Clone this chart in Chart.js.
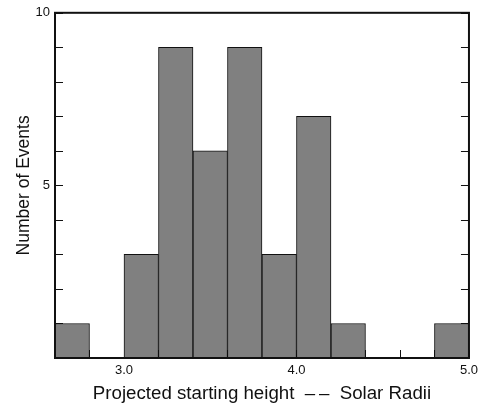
<!DOCTYPE html>
<html>
<head>
<meta charset="utf-8">
<script src="https://cdn.jsdelivr.net/npm/chart.js@4/dist/chart.umd.min.js"></script>
<style>
  html, body { margin: 0; padding: 0; background: #fff; }
  #wrap { width: 483px; height: 405px; position: relative; }
</style>
</head>
<body>
<div id="wrap"><canvas id="c"></canvas></div>
<script>
// Histogram bins (lower edges, width 0.2 solar radii) and counts
const binStarts = [2.6, 2.8, 3.0, 3.2, 3.4, 3.6, 3.8, 4.0, 4.2, 4.4, 4.6, 4.8];
const binWidth = 0.2;
const counts    = [1,   0,   3,   9,   6,   9,   3,   7,   1,   0,   0,   1];
const xLabelValues = [3.0, 4.0, 5.0];
const yLabelValues = [5, 10];
const xTitle = "Projected starting height  \u2013\u2009\u2013  Solar Radii";
const yTitle = "Number of Events";

const data = binStarts.map((s, i) => ({ x: s + binWidth / 2, y: counts[i] }));

const FONT = "'Liberation Sans', Arial, Helvetica, sans-serif";
const INK = '#111';

const framePlugin = {
  id: 'framePlugin',
  beforeDatasetsDraw(chart) {
    const { ctx, chartArea: a, scales: { x, y } } = chart;
    const L = 8;
    ctx.save();
    ctx.strokeStyle = INK;
    ctx.lineWidth = 1;
    ctx.beginPath();
    y.ticks.forEach(t => {
      const py = Math.round(y.getPixelForValue(t.value)) + 0.5;
      ctx.moveTo(a.left, py); ctx.lineTo(a.left + L, py);
      ctx.moveTo(a.right, py); ctx.lineTo(a.right - L, py);
    });
    x.ticks.forEach(t => {
      const px = Math.round(x.getPixelForValue(t.value)) + 0.5;
      ctx.moveTo(px, a.bottom); ctx.lineTo(px, a.bottom - L);
    });
    ctx.stroke();
    ctx.restore();
  },
  afterDatasetsDraw(chart) {
    const { ctx, chartArea: a } = chart;
    ctx.save();
    ctx.strokeStyle = INK;
    ctx.lineWidth = 2;
    ctx.strokeRect(a.left, a.top, a.right - a.left, a.bottom - a.top);
    ctx.restore();
  }
};

new Chart(document.getElementById('c'), {
  type: 'bar',
  data: {
    datasets: [{
      data: data,
      backgroundColor: '#808080',
      borderColor: '#111',
      borderWidth: 1,
      borderSkipped: 'start',
      barPercentage: 1.0,
      categoryPercentage: 1.0
    }]
  },
  options: {
    responsive: true,
    maintainAspectRatio: false,
    animation: false,
    layout: { padding: { left: 0, right: 11, top: 12, bottom: 0 } },
    plugins: { legend: { display: false }, tooltip: { enabled: false } },
    scales: {
      x: {
        type: 'linear',
        offset: false,
        min: 2.6, max: 5.0,
        grid: { display: false, drawTicks: false },
        border: { display: false },
        afterBuildTicks(scale) {
          const t = [];
          for (let i = 0; i <= 12; i++) t.push({ value: +(2.6 + i * 0.2).toFixed(1) });
          scale.ticks = t;
        },
        ticks: {
          autoSkip: false,
          maxRotation: 0,
          padding: 5,
          color: INK,
          font: { family: FONT, size: 13 },
          callback(v) {
            return xLabelValues.some(l => Math.abs(l - v) < 1e-6) ? Number(v).toFixed(1) : '';
          }
        },
        title: {
          display: true, text: xTitle, color: INK,
          font: { family: FONT, size: 18.7 },
          padding: { top: 4, bottom: 0 }
        },
        afterFit(scale) { scale.height = 47; }
      },
      y: {
        min: 0, max: 10,
        grid: { display: false, drawTicks: false },
        border: { display: false },
        ticks: {
          stepSize: 1,
          autoSkip: false,
          padding: 5,
          color: INK,
          font: { family: FONT, size: 13 },
          callback(v) { return yLabelValues.includes(v) ? String(v) : ''; }
        },
        title: {
          display: true, text: yTitle, color: INK,
          font: { family: FONT, size: 17.5 },
          padding: { top: 14, bottom: 0 }
        },
        afterFit(scale) { scale.width = 55; }
      }
    }
  },
  plugins: [framePlugin]
});
</script>
</body>
</html>
